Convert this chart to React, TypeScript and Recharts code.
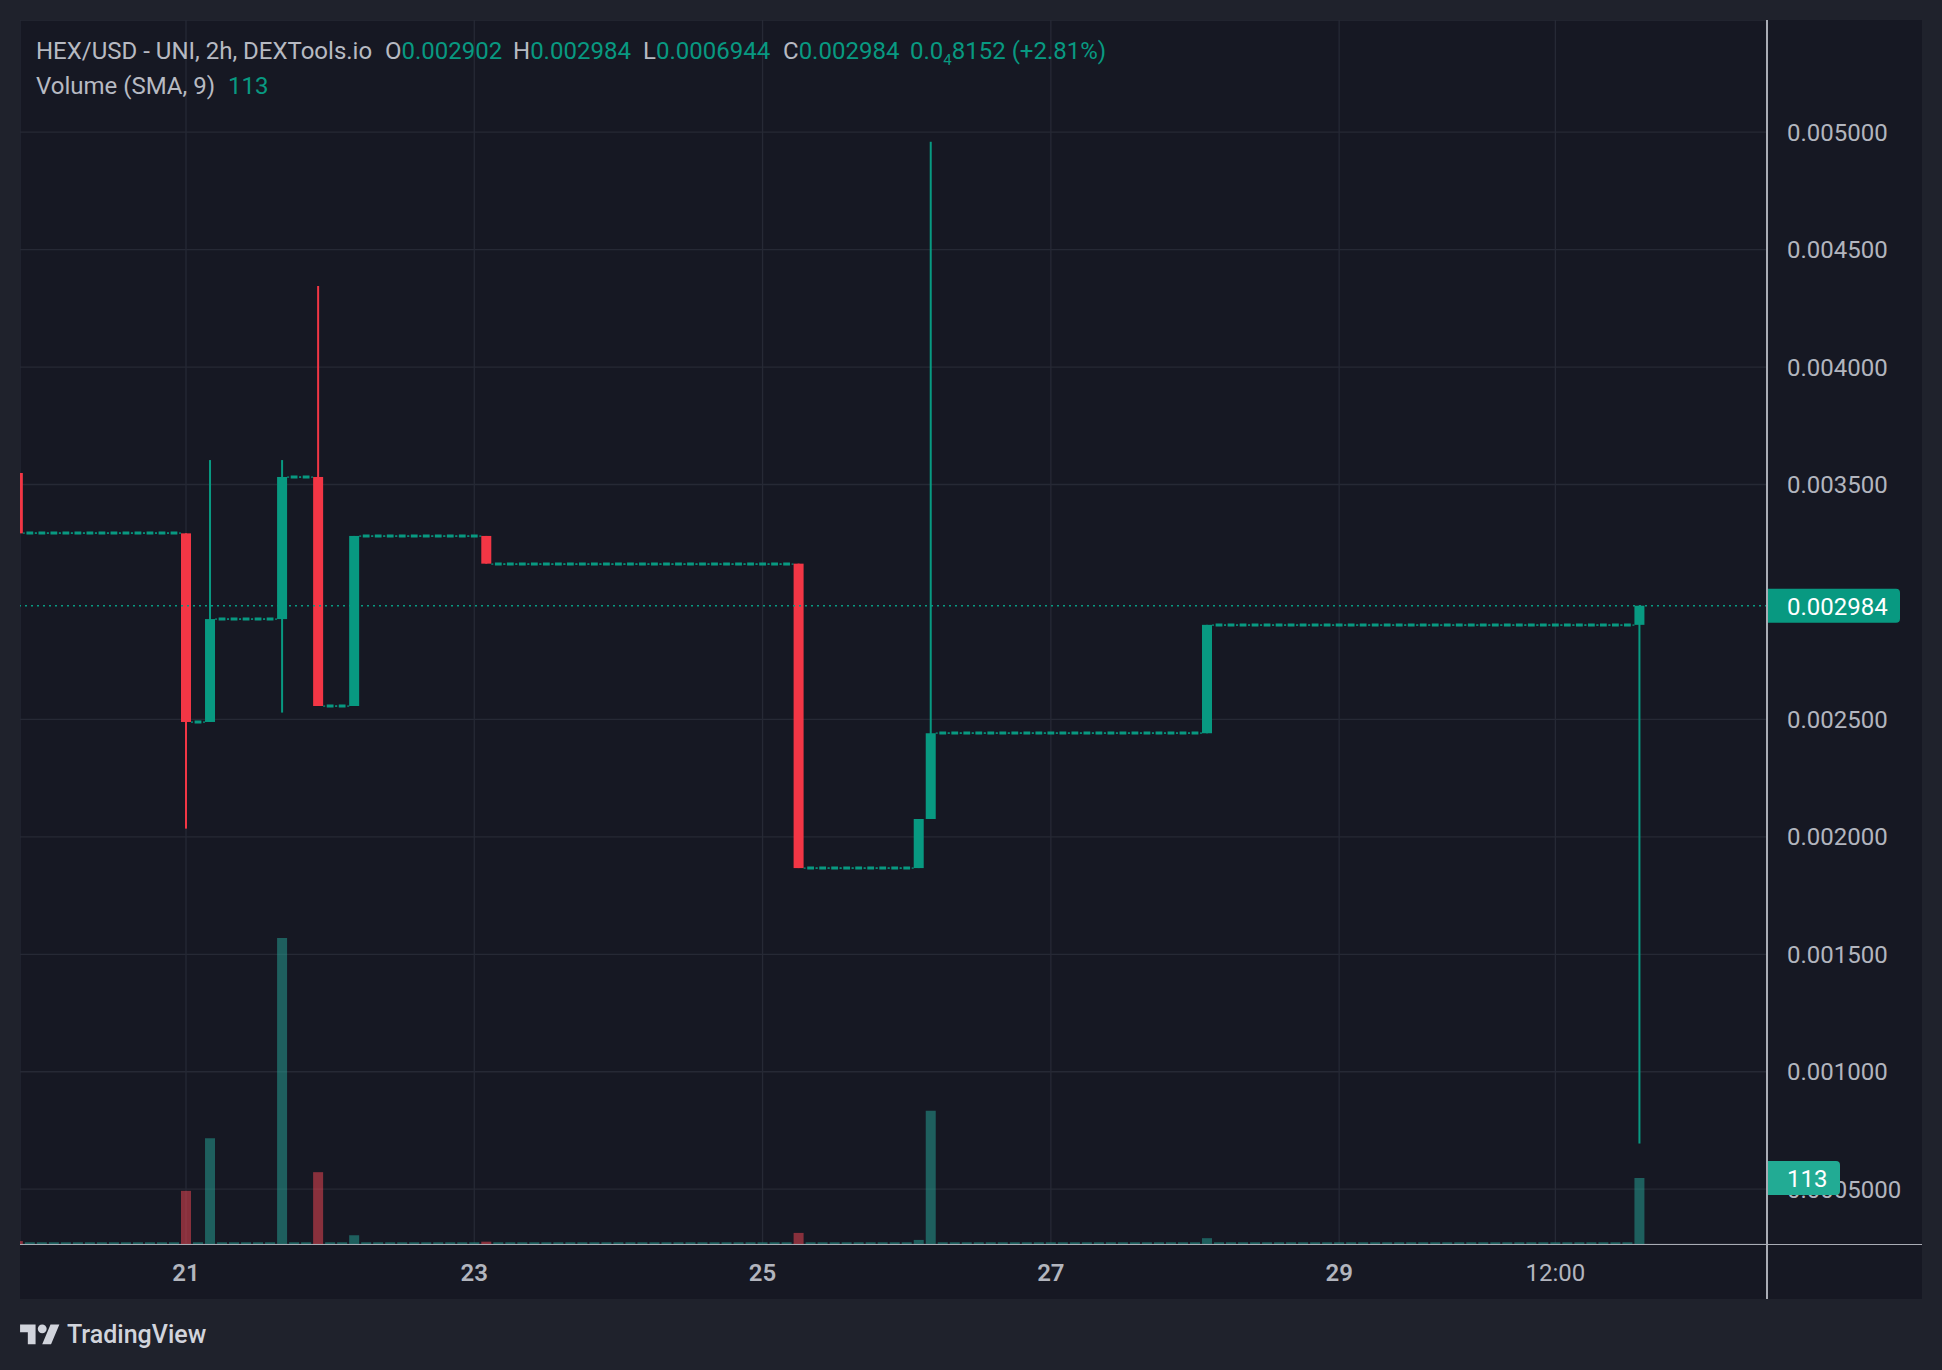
import React from 'react';
import { ComposedChart, Bar, Cell, XAxis, YAxis, CartesianGrid, ReferenceLine } from 'recharts';

// 2h candles, from the 19th 20:00 to the 31st 02:00 (index 14 = 21st 00:00)
const opens = [
  0.003549, 0.003292,
  0.003292, 0.003292, 0.003292, 0.003292, 0.003292, 0.003292, 0.003292, 0.003292, 0.003292, 0.003292, 0.003292, 0.003292,
  0.003292, 0.002489, 0.002489, 0.002927, 0.002927, 0.002927, 0.002927, 0.002927, 0.002927, 0.003532, 0.003532, 0.003532,
  0.002557, 0.002557, 0.002557, 0.003281, 0.003281, 0.003281, 0.003281, 0.003281, 0.003281, 0.003281, 0.003281, 0.003281,
  0.003281, 0.003281, 0.003163, 0.003163, 0.003163, 0.003163, 0.003163, 0.003163, 0.003163, 0.003163, 0.003163, 0.003163,
  0.003163, 0.003163, 0.003163, 0.003163, 0.003163, 0.003163, 0.003163, 0.003163, 0.003163, 0.003163, 0.003163, 0.003163,
  0.003163, 0.003163, 0.003163, 0.003163, 0.001867, 0.001867, 0.001867, 0.001867, 0.001867, 0.001867, 0.001867, 0.001867,
  0.001867, 0.001867, 0.002076, 0.002441, 0.002441, 0.002441, 0.002441, 0.002441, 0.002441, 0.002441, 0.002441, 0.002441,
  0.002441, 0.002441, 0.002441, 0.002441, 0.002441, 0.002441, 0.002441, 0.002441, 0.002441, 0.002441, 0.002441, 0.002441,
  0.002441, 0.002441, 0.0029025, 0.0029025, 0.0029025, 0.0029025, 0.0029025, 0.0029025, 0.0029025, 0.0029025, 0.0029025, 0.0029025,
  0.0029025, 0.0029025, 0.0029025, 0.0029025, 0.0029025, 0.0029025, 0.0029025, 0.0029025, 0.0029025, 0.0029025, 0.0029025, 0.0029025,
  0.0029025, 0.0029025, 0.0029025, 0.0029025, 0.0029025, 0.0029025, 0.0029025, 0.0029025, 0.0029025, 0.0029025, 0.0029025, 0.0029025,
  0.0029025, 0.0029025,
];

const highs = [
  0.003549, 0.003292,
  0.003292, 0.003292, 0.003292, 0.003292, 0.003292, 0.003292, 0.003292, 0.003292, 0.003292, 0.003292, 0.003292, 0.003292,
  0.003292, 0.002489, 0.003604, 0.002927, 0.002927, 0.002927, 0.002927, 0.002927, 0.003604, 0.003532, 0.003532, 0.004345,
  0.002557, 0.002557, 0.003281, 0.003281, 0.003281, 0.003281, 0.003281, 0.003281, 0.003281, 0.003281, 0.003281, 0.003281,
  0.003281, 0.003281, 0.003163, 0.003163, 0.003163, 0.003163, 0.003163, 0.003163, 0.003163, 0.003163, 0.003163, 0.003163,
  0.003163, 0.003163, 0.003163, 0.003163, 0.003163, 0.003163, 0.003163, 0.003163, 0.003163, 0.003163, 0.003163, 0.003163,
  0.003163, 0.003163, 0.003163, 0.003163, 0.001867, 0.001867, 0.001867, 0.001867, 0.001867, 0.001867, 0.001867, 0.001867,
  0.001867, 0.002076, 0.004959, 0.002441, 0.002441, 0.002441, 0.002441, 0.002441, 0.002441, 0.002441, 0.002441, 0.002441,
  0.002441, 0.002441, 0.002441, 0.002441, 0.002441, 0.002441, 0.002441, 0.002441, 0.002441, 0.002441, 0.002441, 0.002441,
  0.002441, 0.0029025, 0.0029025, 0.0029025, 0.0029025, 0.0029025, 0.0029025, 0.0029025, 0.0029025, 0.0029025, 0.0029025, 0.0029025,
  0.0029025, 0.0029025, 0.0029025, 0.0029025, 0.0029025, 0.0029025, 0.0029025, 0.0029025, 0.0029025, 0.0029025, 0.0029025, 0.0029025,
  0.0029025, 0.0029025, 0.0029025, 0.0029025, 0.0029025, 0.0029025, 0.0029025, 0.0029025, 0.0029025, 0.0029025, 0.0029025, 0.0029025,
  0.0029025, 0.002984,
];

const lows = [
  0.003292, 0.003292,
  0.003292, 0.003292, 0.003292, 0.003292, 0.003292, 0.003292, 0.003292, 0.003292, 0.003292, 0.003292, 0.003292, 0.003292,
  0.002035, 0.002489, 0.002489, 0.002927, 0.002927, 0.002927, 0.002927, 0.002927, 0.002529, 0.003532, 0.003532, 0.002557,
  0.002557, 0.002557, 0.002557, 0.003281, 0.003281, 0.003281, 0.003281, 0.003281, 0.003281, 0.003281, 0.003281, 0.003281,
  0.003281, 0.003163, 0.003163, 0.003163, 0.003163, 0.003163, 0.003163, 0.003163, 0.003163, 0.003163, 0.003163, 0.003163,
  0.003163, 0.003163, 0.003163, 0.003163, 0.003163, 0.003163, 0.003163, 0.003163, 0.003163, 0.003163, 0.003163, 0.003163,
  0.003163, 0.003163, 0.003163, 0.001867, 0.001867, 0.001867, 0.001867, 0.001867, 0.001867, 0.001867, 0.001867, 0.001867,
  0.001867, 0.001867, 0.002076, 0.002441, 0.002441, 0.002441, 0.002441, 0.002441, 0.002441, 0.002441, 0.002441, 0.002441,
  0.002441, 0.002441, 0.002441, 0.002441, 0.002441, 0.002441, 0.002441, 0.002441, 0.002441, 0.002441, 0.002441, 0.002441,
  0.002441, 0.002441, 0.0029025, 0.0029025, 0.0029025, 0.0029025, 0.0029025, 0.0029025, 0.0029025, 0.0029025, 0.0029025, 0.0029025,
  0.0029025, 0.0029025, 0.0029025, 0.0029025, 0.0029025, 0.0029025, 0.0029025, 0.0029025, 0.0029025, 0.0029025, 0.0029025, 0.0029025,
  0.0029025, 0.0029025, 0.0029025, 0.0029025, 0.0029025, 0.0029025, 0.0029025, 0.0029025, 0.0029025, 0.0029025, 0.0029025, 0.0029025,
  0.0029025, 0.0006944,
];

const closes = [
  0.003292, 0.003292,
  0.003292, 0.003292, 0.003292, 0.003292, 0.003292, 0.003292, 0.003292, 0.003292, 0.003292, 0.003292, 0.003292, 0.003292,
  0.002489, 0.002489, 0.002927, 0.002927, 0.002927, 0.002927, 0.002927, 0.002927, 0.003532, 0.003532, 0.003532, 0.002557,
  0.002557, 0.002557, 0.003281, 0.003281, 0.003281, 0.003281, 0.003281, 0.003281, 0.003281, 0.003281, 0.003281, 0.003281,
  0.003281, 0.003163, 0.003163, 0.003163, 0.003163, 0.003163, 0.003163, 0.003163, 0.003163, 0.003163, 0.003163, 0.003163,
  0.003163, 0.003163, 0.003163, 0.003163, 0.003163, 0.003163, 0.003163, 0.003163, 0.003163, 0.003163, 0.003163, 0.003163,
  0.003163, 0.003163, 0.003163, 0.001867, 0.001867, 0.001867, 0.001867, 0.001867, 0.001867, 0.001867, 0.001867, 0.001867,
  0.001867, 0.002076, 0.002441, 0.002441, 0.002441, 0.002441, 0.002441, 0.002441, 0.002441, 0.002441, 0.002441, 0.002441,
  0.002441, 0.002441, 0.002441, 0.002441, 0.002441, 0.002441, 0.002441, 0.002441, 0.002441, 0.002441, 0.002441, 0.002441,
  0.002441, 0.0029025, 0.0029025, 0.0029025, 0.0029025, 0.0029025, 0.0029025, 0.0029025, 0.0029025, 0.0029025, 0.0029025, 0.0029025,
  0.0029025, 0.0029025, 0.0029025, 0.0029025, 0.0029025, 0.0029025, 0.0029025, 0.0029025, 0.0029025, 0.0029025, 0.0029025, 0.0029025,
  0.0029025, 0.0029025, 0.0029025, 0.0029025, 0.0029025, 0.0029025, 0.0029025, 0.0029025, 0.0029025, 0.0029025, 0.0029025, 0.0029025,
  0.0029025, 0.002984,
];

const volumes = [
  5, 3,
  3, 3, 3, 3, 3, 3, 3, 3, 3, 3, 3, 3,
  91, 3, 181, 3, 3, 3, 3, 3, 524, 3, 3, 123,
  3, 3, 15, 3, 3, 3, 3, 3, 3, 3, 3, 3,
  3, 4, 3, 3, 3, 3, 3, 3, 3, 3, 3, 3,
  3, 3, 3, 3, 3, 3, 3, 3, 3, 3, 3, 3,
  3, 3, 3, 19, 3, 3, 3, 3, 3, 3, 3, 3,
  3, 7, 228, 3, 3, 3, 3, 3, 3, 3, 3, 3,
  3, 3, 3, 3, 3, 3, 3, 3, 3, 3, 3, 3,
  3, 10, 3, 3, 3, 3, 3, 3, 3, 3, 3, 3,
  3, 3, 3, 3, 3, 3, 3, 3, 3, 3, 3, 3,
  3, 3, 3, 3, 3, 3, 3, 3, 3, 3, 3, 3,
  3, 113,
];

const xTicks = [14, 38, 62, 86, 110, 128];
const xTickLabels = ['21', '23', '25', '27', '29', '12:00'];
const yTicks = [0.0005, 0.001, 0.0015, 0.002, 0.0025, 0.0035, 0.004, 0.0045, 0.005];
const lastPrice = 0.002984;
const lastVolume = 113;

const X_DOMAIN = [0.18, 145.62];
const PRICE_DOMAIN = [0.0002667, 0.0054774];
const VOL_DOMAIN = [0, 2096];

const OUTER = '#1f222c';
const PANE = '#161823';
const GRID = '#262935';
const AXIS = '#a9acb5';
const TEXT = '#b2b5be';
const UP = '#089981';
const DOWN = '#f23645';

const data = opens.map((o, i) => ({
  i,
  o,
  h: highs[i],
  l: lows[i],
  c: closes[i],
  v: volumes[i],
  range: [lows[i], highs[i]],
}));

const Candle = (props: any) => {
  const { x, y, width, height, payload } = props;
  const { o, h, l, c } = payload;
  const top = Math.min(y, y + height);
  const span = Math.abs(height);
  const cx = x + width / 2;
  if (h - l < 1e-9) {
    const ty = Math.round(top);
    return (
      <g fill={UP}>
        <rect x={cx - 7} y={ty - 0.5} width={2} height={1.2} />
        <rect x={cx - 3.4} y={ty - 1.5} width={6.8} height={3} />
        <rect x={cx + 5} y={ty - 0.5} width={2} height={1.2} />
      </g>
    );
  }
  const k = span / (h - l);
  const bodyTop = top + (h - Math.max(o, c)) * k;
  const bodyH = Math.max(Math.abs(o - c) * k, 1);
  return (
    <g fill={c < o ? DOWN : UP}>
      <rect x={cx - 1} y={top} width={2} height={span} />
      <rect x={x} y={bodyTop} width={width} height={bodyH} />
    </g>
  );
};

const DayTick = (props: any) => {
  const { x, y, payload } = props;
  const label = xTickLabels[xTicks.indexOf(payload.value)];
  return (
    <text
      x={x}
      y={y + 29}
      textAnchor="middle"
      dominantBaseline="central"
      fill={TEXT}
      fontSize={24}
      fontFamily="Roboto"
      fontWeight={label === '12:00' ? 400 : 600}
    >
      {label}
    </text>
  );
};

const Tag = (props: any) => {
  const { viewBox, text, fill, w } = props;
  const x = viewBox.x + viewBox.width;
  const y = viewBox.y;
  const hh = 17;
  const r = 4;
  const d = `M${x},${y - hh} H${x + w - r} Q${x + w},${y - hh} ${x + w},${y - hh + r} V${y + hh - r} Q${x + w},${y + hh} ${x + w - r},${y + hh} H${x} Z`;
  return (
    <g>
      <path d={d} fill={fill} />
      <text x={x + 20} y={y + 1} dominantBaseline="central" fill="#ffffff" fontSize={24} fontFamily="Roboto">
        {text}
      </text>
    </g>
  );
};

const fmtPrice = (v: number) => (v < 0.001 ? v.toFixed(7) : v.toFixed(6));

export default function App() {
  return (
    <div style={{ position: 'absolute', left: 0, top: 0, width: 1942, height: 1370, background: OUTER, fontFamily: 'Roboto', overflow: 'hidden' }}>
      <style>{'body{margin:0;}'}</style>
      <div style={{ position: 'absolute', left: 20, top: 20, width: 1902, height: 1279, background: PANE }} />
      <div style={{ position: 'absolute', left: 20, top: 20 }}>
        <ComposedChart width={1902} height={1279} data={data} margin={{ top: 0, right: 0, bottom: 0, left: 0 }}>
          <CartesianGrid stroke={GRID} strokeWidth={1.3} />
          <XAxis
            dataKey="i"
            type="number"
            domain={X_DOMAIN}
            allowDataOverflow
            ticks={xTicks}
            interval={0}
            height={55}
            axisLine={false}
            tickLine={false}
            tickSize={0}
            tickMargin={0}
            tick={<DayTick />}
          />
          <XAxis xAxisId="v" dataKey="i" type="number" domain={X_DOMAIN} allowDataOverflow hide />
          <YAxis
            orientation="right"
            width={155}
            type="number"
            domain={PRICE_DOMAIN}
            allowDataOverflow
            ticks={yTicks}
            interval={0}
            tickFormatter={fmtPrice}
            axisLine={false}
            tickLine={false}
            tickSize={0}
            tickMargin={20}
            tick={{ fill: TEXT, fontSize: 24, fontFamily: 'Roboto' }}
          />
          <YAxis yAxisId="v" type="number" domain={VOL_DOMAIN} allowDataOverflow hide />
          <Bar xAxisId="v" yAxisId="v" dataKey="v" barSize={10} isAnimationActive={false}>
            {data.map((d) => (
              <Cell key={d.i} fill={d.c < d.o ? 'rgba(242,70,85,0.52)' : 'rgba(38,166,154,0.5)'} />
            ))}
          </Bar>
          <Bar dataKey="range" barSize={10} shape={<Candle />} isAnimationActive={false} />
          <ReferenceLine y={lastPrice} stroke={UP} strokeWidth={1.6} strokeDasharray="2 4" />
        </ComposedChart>
      </div>

      {/* last-value tags sit on top of the price scale labels */}
      <div style={{ position: 'absolute', left: 20, top: 20, pointerEvents: 'none' }}>
        <ComposedChart width={1902} height={1279} data={data} margin={{ top: 0, right: 0, bottom: 0, left: 0 }}>
          <XAxis dataKey="i" type="number" domain={X_DOMAIN} allowDataOverflow height={55} axisLine={false} tickLine={false} tick={false} />
          <YAxis orientation="right" width={155} type="number" domain={PRICE_DOMAIN} allowDataOverflow axisLine={false} tickLine={false} tick={false} />
          <YAxis yAxisId="v" type="number" domain={VOL_DOMAIN} allowDataOverflow hide />
          <ReferenceLine
            y={lastPrice}
            stroke="none"
            label={(p: any) => <Tag {...p} text={fmtPrice(lastPrice)} fill={UP} w={133} />}
          />
          <ReferenceLine
            yAxisId="v"
            y={lastVolume}
            stroke="none"
            label={(p: any) => <Tag {...p} text={String(lastVolume)} fill="#22ab94" w={73} />}
          />
        </ComposedChart>
      </div>

      <div style={{ position: 'absolute', left: 1766, top: 20, width: 1.5, height: 1279, background: AXIS }} />
      <div style={{ position: 'absolute', left: 20, top: 1243.5, width: 1902, height: 1.5, background: AXIS }} />

      <div style={{ position: 'absolute', left: 0, top: 37, fontSize: 24, lineHeight: '28px', whiteSpace: 'nowrap', color: '#b7bac2' }}>
        <span style={{ position: 'absolute', left: 36 }}>HEX/USD - UNI, 2h, DEXTools.io</span>
        <span style={{ position: 'absolute', left: 385 }}>O<span style={{ color: UP }}>0.002902</span></span>
        <span style={{ position: 'absolute', left: 513 }}>H<span style={{ color: UP }}>0.002984</span></span>
        <span style={{ position: 'absolute', left: 643 }}>L<span style={{ color: UP }}>0.0006944</span></span>
        <span style={{ position: 'absolute', left: 783 }}>C<span style={{ color: UP }}>0.002984</span></span>
        <span style={{ position: 'absolute', left: 910, color: UP }}>
          0.0<span style={{ fontSize: 15, position: 'relative', top: 6 }}>4</span>8152 (+2.81%)
        </span>
      </div>
      <div style={{ position: 'absolute', left: 0, top: 72, fontSize: 24, lineHeight: '28px', whiteSpace: 'nowrap', color: '#b7bac2' }}>
        <span style={{ position: 'absolute', left: 36 }}>Volume (SMA, 9)</span>
        <span style={{ position: 'absolute', left: 228, color: UP }}>113</span>
      </div>

      <svg style={{ position: 'absolute', left: 20, top: 1319.5 }} width={40} height={31} viewBox="0 0 36 28">
        <path d="M14 22H7V11H0V4h14v18zM28 22h-8l7.5-18h8L28 22z" fill="#d1d4dc" />
        <circle cx={20} cy={8} r={4} fill="#d1d4dc" />
      </svg>
      <div style={{ position: 'absolute', left: 67, top: 1320, fontSize: 25, lineHeight: '30px', color: '#d1d4dc', fontWeight: 500 }}>
        TradingView
      </div>
    </div>
  );
}
